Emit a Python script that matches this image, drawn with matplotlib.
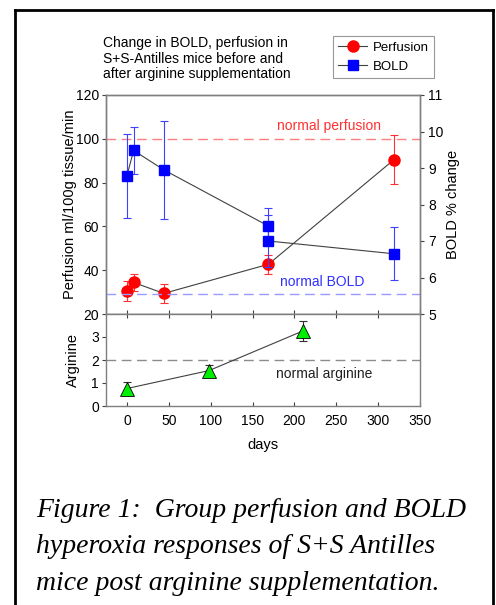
import matplotlib
matplotlib.use("Agg")
import matplotlib.pyplot as plt
from matplotlib.lines import Line2D

plt.rcParams['font.family'] = ['Liberation Sans', 'DejaVu Sans']

# ---- data ----
perf_days = [0, 8, 44, 169, 319]
perf_vals = [30.6, 34.4, 29.4, 42.7, 90.5]
perf_err = [4.6, 3.8, 4.2, 4.4, 11.3]

bold_days = [0, 8, 44, 169, 169, 319]
bold_vals = [8.79, 9.48, 8.95, 7.41, 7.0, 6.65]
bold_err = [1.15, 0.64, 1.35, 0.5, 0.7, 0.72]

arg_days = [0, 98, 210]
arg_vals = [0.76, 1.54, 3.26]
arg_err = [0.3, 0.25, 0.43]

normal_perfusion = 100
normal_bold = 5.55
normal_arginine = 2.0

left_ticks = [20, 40, 60, 80, 100, 120]
right_ticks = [5, 6, 7, 8, 9, 10, 11]
arg_ticks = [0, 1, 2, 3]
day_ticks = [0, 50, 100, 150, 200, 250, 300, 350]

title_text = "Change in BOLD, perfusion in\nS+S-Antilles mice before and\nafter arginine supplementation"
caption = ("Figure 1:  Group perfusion and BOLD\n"
           "hyperoxia responses of S+S Antilles\n"
           "mice post arginine supplementation.")

W, H = 496, 605
fig = plt.figure(figsize=(W / 100, H / 100), dpi=100)

def fx(x):
    return x / W

def fy(y):
    return 1 - y / H

spine_col = '#7f7f7f'
line_col = '#404040'
fs = 10

ax = fig.add_axes([fx(106), fy(314), fx(420) - fx(106), fy(95) - fy(314)])
ax2 = ax.twinx()
axb = fig.add_axes([fx(106), fy(406), fx(420) - fx(106), fy(314) - fy(406)], sharex=ax)

ax.set_xlim(-25, 350)
ax.set_ylim(20, 120)
ax2.set_ylim(5, 11)
axb.set_ylim(0, 4)

for a in (ax, ax2, axb):
    for s in a.spines.values():
        s.set_color(spine_col)
        s.set_linewidth(1.0)

# reference lines
ax.axhline(normal_perfusion, color='#ff8080', ls=(0, (7, 4)), lw=1.0, zorder=1)
ax2.axhline(normal_bold, color='#9999ff', ls=(0, (7, 4)), lw=1.0, zorder=1)
axb.axhline(normal_arginine, color='#8c8c8c', ls=(0, (7, 4)), lw=1.0, zorder=1)

ax.text(241, 106, "normal perfusion", color='#ff3030', fontsize=fs, ha='center', va='center')
ax2.text(233, 5.89, "normal BOLD", color='#3030ff', fontsize=fs, ha='center', va='center')
axb.text(235, 1.37, "normal arginine", color='#202020', fontsize=fs, ha='center', va='center')

# perfusion
ax.plot(perf_days, perf_vals, color=line_col, lw=0.8, zorder=2)
ax.errorbar(perf_days, perf_vals, yerr=perf_err, fmt='none', ecolor='#ff3030',
            elinewidth=0.8, capsize=3, capthick=0.8, zorder=3)
ax.plot(perf_days, perf_vals, 'o', ms=8, mfc='#ff0000', mec='#ff0000', ls='none', zorder=4)

# BOLD
ax2.plot(bold_days, bold_vals, color=line_col, lw=0.8, zorder=2)
ax2.errorbar(bold_days, bold_vals, yerr=bold_err, fmt='none', ecolor='#4040ff',
             elinewidth=0.8, capsize=3, capthick=0.8, zorder=3)
ax2.plot(bold_days, bold_vals, 's', ms=7.2, mfc='#0000ff', mec='#0000ff', ls='none', zorder=4)

# arginine
axb.plot(arg_days, arg_vals, color=line_col, lw=0.8, zorder=2)
axb.errorbar(arg_days, arg_vals, yerr=arg_err, fmt='none', ecolor='#303030',
             elinewidth=0.8, capsize=3, capthick=0.8, zorder=3)
axb.plot(arg_days, arg_vals, '^', ms=9.5, mfc='#00ee00', mec='#000000', mew=0.6, ls='none', zorder=4)

# ticks
ax.set_yticks(left_ticks)
ax2.set_yticks(right_ticks)
axb.set_yticks(arg_ticks)
axb.set_xticks(day_ticks)
ax.tick_params(axis='x', direction='in', length=3, color='#404040', labelbottom=False)
axb.tick_params(axis='x', direction='in', length=3, color='#404040', top=True,
                labelsize=fs, pad=6)
ax.tick_params(axis='y', direction='out', length=3, color='#404040', labelsize=fs, pad=2)
ax2.tick_params(axis='y', direction='out', length=3, color='#404040', labelsize=fs, pad=3)
axb.tick_params(axis='y', direction='out', length=3, color='#404040', labelsize=fs, pad=2)

ax.set_ylabel("Perfusion ml/100g tissue/min", fontsize=fs + 0.5, labelpad=-1)
ax2.set_ylabel("BOLD % change", fontsize=fs + 0.5, labelpad=2)
axb.set_ylabel("Arginine", fontsize=fs + 0.5, labelpad=8)
axb.set_xlabel("days", fontsize=fs + 0.5, labelpad=7)

# title text
fig.text(fx(103), fy(36), title_text, fontsize=fs, ha='left', va='top', linespacing=1.15)

# legend
handles = [Line2D([], [], color=line_col, lw=0.8, marker='o', ms=8, mfc='#ff0000', mec='#ff0000'),
           Line2D([], [], color=line_col, lw=0.8, marker='s', ms=7.2, mfc='#0000ff', mec='#0000ff')]
leg = fig.legend(handles, ["Perfusion", "BOLD"], loc='upper left',
                 bbox_to_anchor=(fx(333), fy(36)), fontsize=fs - 0.5, frameon=True,
                 fancybox=False, edgecolor='#808080', handlelength=2.2,
                 borderpad=0.4, labelspacing=0.55, handletextpad=0.4, borderaxespad=0)
leg.get_frame().set_linewidth(0.8)

# caption
fig.text(fx(36), fy(498), caption, fontsize=20, ha='left', va='top',
         family=['Liberation Serif', 'DejaVu Serif'], style='italic', linespacing=1.6)

# outer border (top, left, right)
fig.add_artist(Line2D([fx(15), fx(493)], [fy(10), fy(10)], color='black', lw=2, transform=fig.transFigure))
fig.add_artist(Line2D([fx(15), fx(15)], [fy(10), 0], color='black', lw=2, transform=fig.transFigure))
fig.add_artist(Line2D([fx(493), fx(493)], [fy(10), 0], color='black', lw=2, transform=fig.transFigure))

fig.savefig("out.png", dpi=100)
